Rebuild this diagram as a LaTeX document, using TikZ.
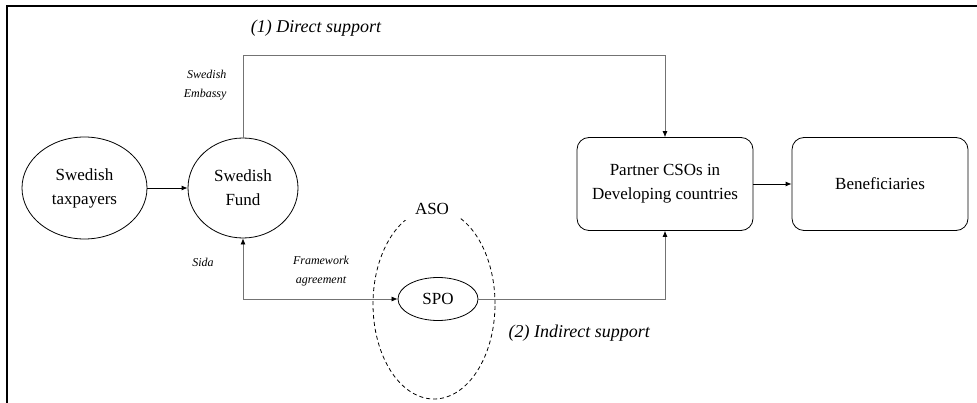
\documentclass[tikz,border=0pt]{standalone}
\usepackage{fontspec}
\setmainfont{Liberation Serif}
\usetikzlibrary{shapes.geometric,arrows.meta}
\begin{document}
\begin{tikzpicture}[x=1pt,y=-1pt,
  oval/.style={draw,ellipse,inner sep=0pt,line width=0.8pt,font=\fontsize{17}{24}\selectfont,align=center},
  rbox/.style={draw,rounded corners=12pt,minimum width=176pt,minimum height=93pt,line width=0.8pt,font=\fontsize{17}{24}\selectfont,align=center},
  small/.style={font=\fontsize{12}{19}\selectfont\itshape},
  head/.style={font=\fontsize{18}{22}\selectfont\itshape},
  tip/.style={-{Latex[length=6pt,width=5pt,color=black]}},
  conn/.style={draw=black!55,line width=0.7pt}]
\useasboundingbox (0,0) rectangle (977,403);
\draw[line width=2pt] (7,403) -- (7,6) -- (977,6);
% nodes
\node[oval,minimum width=125pt,minimum height=102pt] (tax) at (84.5,188) {Swedish\\taxpayers};
\node[oval,minimum width=110pt,minimum height=100pt] (fund) at (243,188) {Swedish\\Fund};
\node[rbox] (partner) at (665,184) {Partner CSOs in\\Developing countries};
\node[rbox] (benef) at (880,184) {Beneficiaries};
\node[draw,ellipse,dashed,dash pattern=on 4pt off 3pt,line width=0.8pt,minimum width=122pt,minimum height=190pt] (aso) at (434,304) {};
\node[fill=white,inner xsep=10pt,inner ysep=5pt,font=\fontsize{17}{20}\selectfont] (asol) at (432,209) {ASO};
\node[oval,minimum width=80pt,minimum height=43pt] (spo) at (438,299) {SPO};
% labels
\node[head] (l1) at (316,28) {(1) Direct support};
\node[head,anchor=west] (l2) at (505,333) {(2) Indirect support};
\node[small,align=right,anchor=east] (emb) at (230,85) {Swedish\\Embassy};
\node[small] (sida) at (203,262) {Sida};
\node[small,align=center] (fw) at (321,271) {Framework\\agreement};
% connectors
\coordinate (dtop) at (243,55);
\draw[line width=0.8pt,tip] (tax) -- (fund);
\draw[line width=0.8pt,tip] (partner) -- (benef);
\draw[conn,tip] (fund.north) -- (fund.north |- dtop) -| (partner.north);
\draw[conn,{Latex[length=6pt,width=5pt,color=black]}-{Latex[length=6pt,width=5pt,color=black]}] (fund.south) |- (spo.west);
\draw[conn,tip] (spo.east) -| (partner.south);
\end{tikzpicture}
\end{document}
